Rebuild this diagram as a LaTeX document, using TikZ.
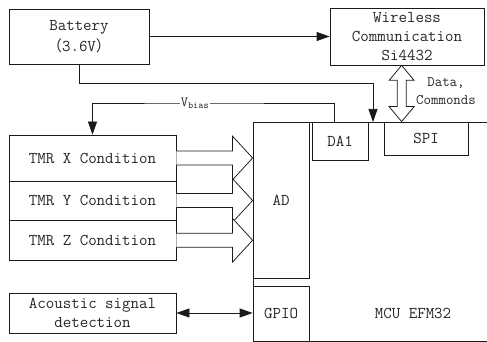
\documentclass[tikz,border=0pt]{standalone}
\usepackage{fontspec}
\newfontfamily\cjk{Noto Sans CJK SC}
\usetikzlibrary{arrows.meta,positioning,calc}
\definecolor{lineblack}{HTML}{1A1A1A}
\definecolor{textgray}{HTML}{262626}

\begin{document}
\begin{tikzpicture}[x=1pt,y=-1pt,line width=0.75pt,
  >={Triangle[length=13pt,width=9pt]},
  blk/.style={draw=lineblack,inner sep=0pt,align=center,text=textgray,font=\ttfamily\fontsize{16.5}{19}\selectfont},
  lbl/.style={inner sep=1pt,align=center,text=textgray},
  hollow/.style={draw=lineblack,fill=white,line join=miter}]
\useasboundingbox (0,0) rectangle (487,342);
\clip (0,0) rectangle (487,342);
% sources on the left
\node[blk,minimum width=140pt,minimum height=55pt] (battery) at (79,36.5) {Battery\\[2pt]{\cjk\fontsize{15}{19}\selectfont（}3.6V{\cjk\fontsize{15}{19}\selectfont）}};
\node[blk,minimum width=167pt,minimum height=46pt] (tmrx) at (92.5,158) {TMR X Condition};
\node[blk,minimum width=167pt,minimum height=39pt] (tmry) at (92.5,200.5) {TMR Y Condition};
\node[blk,minimum width=167pt,minimum height=40.5pt] (tmrz) at (92.5,240.25) {TMR Z Condition};
\node[blk,minimum width=167pt,minimum height=40pt] (acoustic) at (92.5,313) {Acoustic signal\\detection};
% radio
\node[blk,minimum width=154pt,minimum height=57pt] (wireless) at (407,36.5) {Wireless\\Communication\\Si4432};
% mcu and its blocks
\node[blk,anchor=north west,minimum width=300pt,minimum height=219pt] (mcu) at (253,122) {};
\node[lbl,font=\ttfamily\fontsize{16.5}{19}\selectfont] (mcutxt) at (413,313) {MCU EFM32};
\node[blk,minimum width=56pt,minimum height=156pt] (ad) at (281,200) {AD};
\node[blk,minimum width=56pt,minimum height=55pt] (gpio) at (281,313.5) {GPIO};
\node[blk,minimum width=56pt,minimum height=38pt] (da1) at (340,141) {DA1};
\node[blk,minimum width=84pt,minimum height=33pt] (spi) at (426,138.5) {SPI};

% power lines
\coordinate (pwrin) at (373,122);
\draw[lineblack,->] (battery.east) -- (wireless.west);
\draw[lineblack,->] (battery.south) -- ++(0,19) -| (pwrin);
% bias line
\coordinate (vb) at (195,103);
\draw[lineblack,->] ($(da1.north)+(-6,0)$) |- (vb) -| (tmrx.north);
\node[lbl,fill=white,font=\ttfamily\fontsize{14}{16}\selectfont] (vbias) at (vb) {V\textsubscript{bias}};

% sensor outputs
\foreach \n in {tmrx,tmry,tmrz}{
  \draw[hollow] ($(\n.east)+(0,-7)$) -- ++(56,0) -- ++(0,-15) -- (\n.east -| ad.west)
    -- ($(\n.east)+(56,22)$) -- ++(0,-15) -- ($(\n.east)+(0,7)$);
}
\draw[lineblack,<->] (acoustic.east) -- (acoustic.east -| gpio.west);

% data bus
\coordinate (dtop) at ($(wireless.south west)+(72,0)$);
\coordinate (dbot) at (dtop |- spi.north);
\draw[hollow] (dtop) -- ++(12.5,15) -- ++(-8,0) -- ($(dbot)+(4.5,-15)$) -- ++(8,0) -- (dbot)
  -- ++(-12.5,-15) -- ++(8,0) -- ($(dtop)+(-4.5,15)$) -- ++(-8,0) -- cycle;
\node[lbl,font=\ttfamily\fontsize{14.5}{18}\selectfont] (dc) at (446,91) {Data,\\Commonds};
\end{tikzpicture}
\end{document}
